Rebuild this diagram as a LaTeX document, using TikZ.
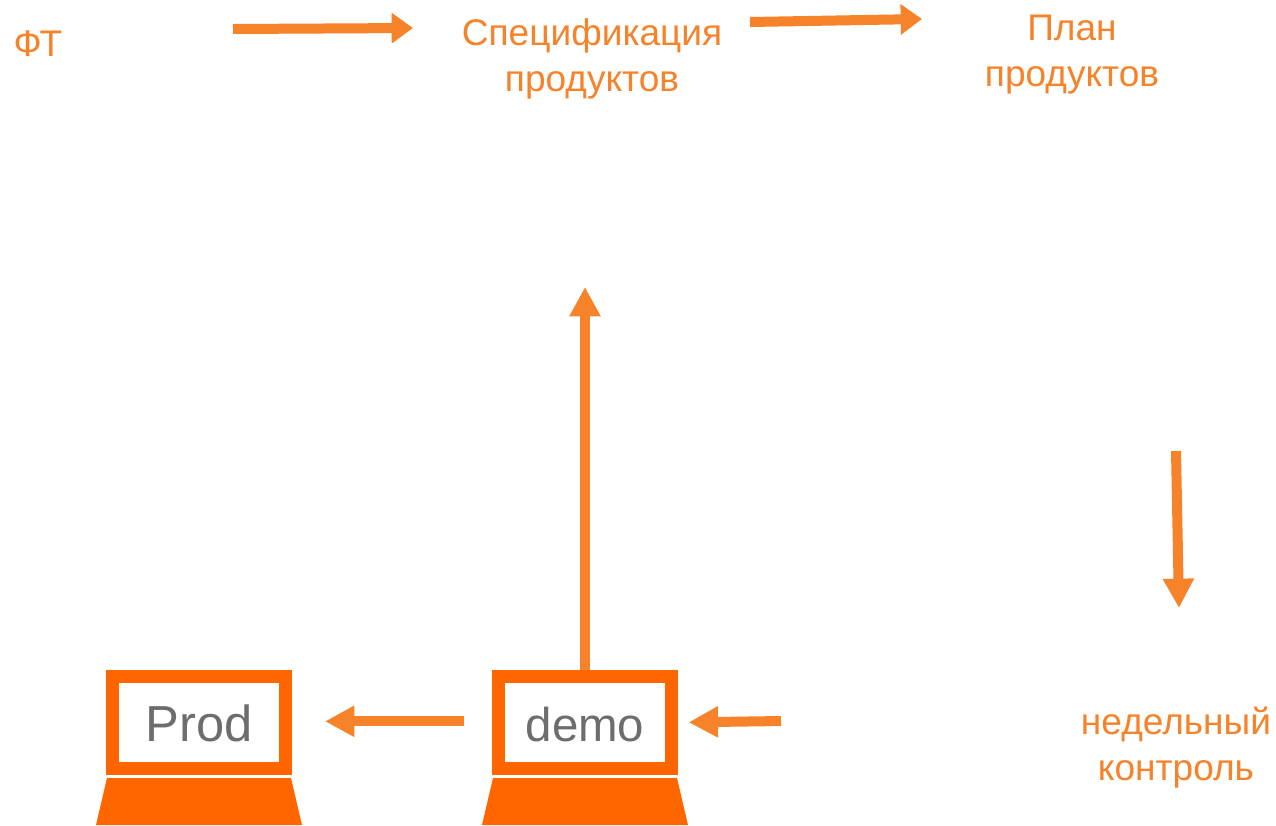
\documentclass[tikz,border=0pt]{standalone}
\usepackage{fontspec}
\setmainfont{Liberation Sans}
\usetikzlibrary{arrows.meta}
\definecolor{screenorange}{HTML}{FF6600}
\definecolor{arroworange}{HTML}{F6822A}
\definecolor{labelgray}{HTML}{6D6D6D}

\begin{document}
\begin{tikzpicture}[x=0.75pt,y=-0.75pt,
    flow/.style={draw=arroworange,line width=7.5pt,-{Triangle[length=22pt,width=22pt]}},
    short flow/.style={draw=arroworange,line width=7.5pt,-{Triangle[length=16pt,width=22pt]}},
    step label/.style={text=arroworange,align=center,inner sep=0pt,font=\fontsize{27.8}{34.5}\selectfont},
    screen/.style={draw=screenorange,line width=9.75pt,outer sep=4.875pt,minimum width=129.75pt,minimum height=69pt,text=labelgray,inner sep=0pt,text depth=0pt},
    base/.style={fill=screenorange}]
        \useasboundingbox (0,0) rectangle (1276,825);
        \node[step label] (ft) at (38,44) {ФТ};
        \node[step label] (spec) at (592,59) {Спецификация\\продуктов};
        \node[step label] (plan) at (1072,55) {План\\продуктов};
        \node[step label] (week) at (1176,748) {недельный\\контроль};
        \node[screen,text height=29.2pt,font=\fontsize{38}{38}\selectfont] (prod) at (199,722.5) {Prod};
        \node[screen,text height=27.8pt,font=\fontsize{35.6}{38}\selectfont] (demo) at (585,722.5) {demo};
        \fill[base] (107,778) -- (291,778) -- (302,825) -- (96,825) -- cycle;
        \fill[base] (493,778) -- (677,778) -- (688,825) -- (482,825) -- cycle;
        \coordinate (ftout) at (233,29);
        \coordinate (specin) at (413,28);
        \coordinate (specout) at (750,22);
        \coordinate (planin) at (922,19);
        \coordinate (planout) at (1176,451);
        \coordinate (weekin) at (1179,608);
        \coordinate (weekout) at (781,721);
        \coordinate (specup) at (585,287);
        \draw[short flow] (ftout) -- (specin);
        \draw[short flow] (specout) -- (planin);
        \draw[flow] (planout) -- (weekin);
        \draw[flow,shorten >=8pt] (weekout) -- (demo.east);
        \draw[flow,shorten <=21pt,shorten >=24.75pt] ([yshift=0.9pt]demo.west) -- ([yshift=0.9pt]prod.east);
        \draw[flow] (demo.north) -- (specup);
        \end{tikzpicture}
\end{document}
